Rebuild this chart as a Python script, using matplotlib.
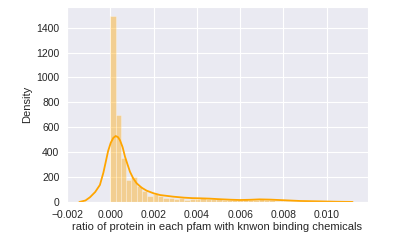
import matplotlib
matplotlib.use("Agg")
import matplotlib.pyplot as plt
import numpy as np
import seaborn as sns

# histogram (density), 40 equal bins from 0 to 0.0098
bin_lo = 0.0
bin_hi = 0.0098
density = [1490, 700, 357, 176, 197, 132, 89, 46, 62, 46,
           35, 35, 27, 32, 19, 22, 28, 30, 24, 22,
           26, 18, 20, 14, 18, 22, 16, 20, 24, 14,
           18, 12, 10, 8, 10, 6, 4, 6, 3, 2]

# kde curve
kde_x = [-0.00143, -0.00115, -0.00094, -0.0007, -0.00048, -0.00032, -0.0002, -0.0001,
         0.00002, 0.00014, 0.00025, 0.00036, 0.00045, 0.00057, 0.00068, 0.0008,
         0.00091, 0.00106, 0.00122, 0.00145, 0.00168, 0.002, 0.0023, 0.0029,
         0.0034, 0.0038, 0.0041, 0.0046, 0.0051, 0.0056, 0.006, 0.0065,
         0.0069, 0.0074, 0.0078, 0.0083, 0.0088, 0.0097, 0.0105, 0.0112]
kde_y = [0, 12, 38, 80, 137, 235, 330, 410,
         475, 515, 530, 520, 495, 440, 364, 300,
         243, 190, 150, 115, 91, 70, 56, 43,
         35, 31, 30, 27, 22, 18, 16, 18,
         21, 19, 16, 12, 8, 5, 2, 0.5]

sns.set_style("darkgrid")
plt.rcParams["font.family"] = ["Liberation Sans", "DejaVu Sans"]

fig = plt.figure(figsize=(3.99, 2.5), dpi=100)
ax = fig.add_axes([0.168, 0.192, 0.7535, 0.78])

edges = np.linspace(bin_lo, bin_hi, len(density) + 1)
ax.bar(edges[:-1], density, width=np.diff(edges), align="edge",
       color="orange", alpha=0.4, edgecolor="white", linewidth=0.5)
ax.plot(kde_x, kde_y, color="orange", lw=1.3, solid_joinstyle="round")

ax.set_xlim(-0.002, 0.0119)
ax.set_ylim(0, 1566)
ax.set_xticks([-0.002, 0.0, 0.002, 0.004, 0.006, 0.008, 0.010])
ax.set_xticklabels(["\u22120.002", "0.000", "0.002", "0.004", "0.006", "0.008", "0.010"])
ax.set_yticks([0, 200, 400, 600, 800, 1000, 1200, 1400])
ax.tick_params(labelsize=7.5, pad=2)
ax.set_xlabel("ratio of protein in each pfam with knwon binding chemicals", fontsize=8, labelpad=2)
ax.set_ylabel("Density", fontsize=8, labelpad=3)

fig.savefig("out.png", dpi=100)
